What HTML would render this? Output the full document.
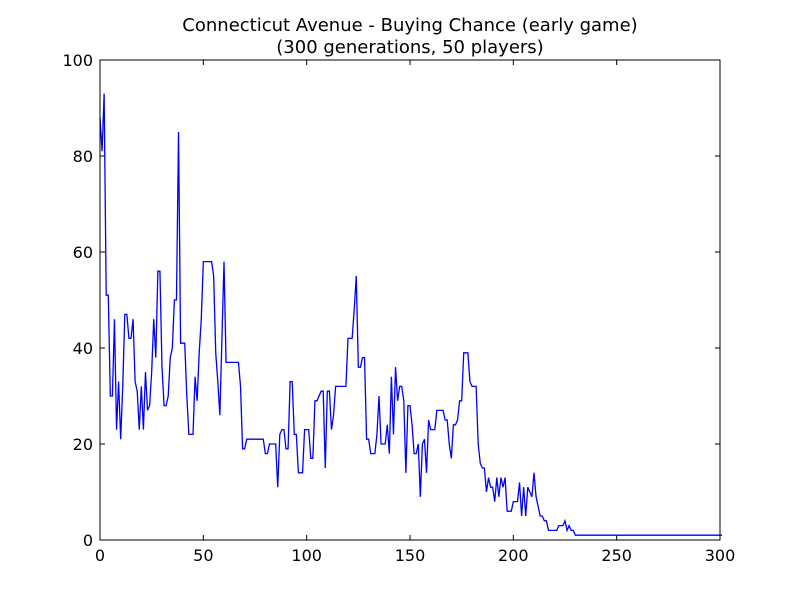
<!DOCTYPE html>
<html><head><meta charset="utf-8"><style>body{margin:0;background:#fff}svg{font-family:"DejaVu Sans","Liberation Sans",sans-serif}</style></head>
<body>
<svg id="chart" width="800" height="600" xmlns="http://www.w3.org/2000/svg">
<rect width="800" height="600" fill="#fff"/>
<text x="410" y="31" font-size="18" text-anchor="middle">Connecticut Avenue - Buying Chance (early game)</text>
<text x="410" y="53" font-size="18" text-anchor="middle">(300 generations, 50 players)</text>
<g id="ticks"></g>
<polyline id="line" fill="none" stroke="#0000ff" stroke-width="1.3"/>
<rect x="100" y="60" width="620" height="480" fill="none" stroke="#000" stroke-width="1"/>
</svg>
<script>
const values = [88,81,93,51,51,30,30,46,23,33,21,32,47,47,42,42,46,33,31,23,32,23,35,27,28,35,46,38,56,56,36,28,28,30,38,40,50,50,85,41,41,41,30,22,22,22,34,29,39,46,58,58,58,58,58,55,39,33,26,42,58,37,37,37,37,37,37,37,32,19,19,21,21,21,21,21,21,21,21,21,18,18,20,20,20,20,11,22,23,23,19,19,33,33,22,22,14,14,14,23,23,23,17,17,29,29,30,31,31,15,31,31,23,26,32,32,32,32,32,32,42,42,42,48,55,36,36,38,38,21,21,18,18,18,22,30,20,20,20,24,18,34,22,36,29,32,32,29,14,28,28,24,18,18,20,9,20,21,14,25,23,23,23,27,27,27,27,25,25,20,17,24,24,25,29,29,39,39,39,33,32,32,32,20,16,15,15,10,13,11,11,8,13,9,13,11,13,6,6,6,8,8,8,12,5,11,5,11,10,9,14,9,7,5,5,4,4,2,2,2,2,2,3,3,3,4,2,3,2,2,1,1,1,1,1,1,1,1,1,1,1,1,1,1,1,1,1,1,1,1,1,1,1,1,1,1,1,1,1,1,1,1,1,1,1,1,1,1,1,1,1,1,1,1,1,1,1,1,1,1,1,1,1,1,1,1,1,1,1,1,1,1,1,1,1,1,1,1,1,1,1,1];
const xTicks = [0,50,100,150,200,250,300];
const yTicks = [0,20,40,60,80,100];
const X0=100,X1=720,Y0=540,Y1=60;
const xs = v => X0 + (v/300)*(X1-X0);
const ys = v => Y0 - (v/100)*(Y0-Y1);
const NS="http://www.w3.org/2000/svg";
const line=document.getElementById('line');
line.setAttribute('points', values.map((v,i)=>xs(i).toFixed(2)+','+ys(v).toFixed(2)).join(' '));
const g=document.getElementById('ticks');
function mk(tag,attrs){const e=document.createElementNS(NS,tag);for(const k in attrs)e.setAttribute(k,attrs[k]);g.appendChild(e);return e;}
xTicks.forEach(t=>{
  const x=xs(t);
  const a=mk('line',{x1:x,x2:x,y1:Y0,y2:Y0-5,stroke:'#000'});
  
  
  const b=mk('line',{x1:x,x2:x,y1:Y1,y2:Y1+5,stroke:'#000'});
  
  
  const l=mk('text',{x:x,y:Y0+21,'font-size':16,'text-anchor':'middle'});
  l.textContent=t;
  
  
});
yTicks.forEach(t=>{
  const y=ys(t);
  const a=mk('line',{x1:X0,x2:X0+5,y1:y,y2:y,stroke:'#000'});
  
  
  const b=mk('line',{x1:X1,x2:X1-5,y1:y,y2:y,stroke:'#000'});
  
  
  const l=mk('text',{x:X0-7,y:y+6,'font-size':16,'text-anchor':'end'});
  l.textContent=t;
  
  
});
</script>
</body></html>
